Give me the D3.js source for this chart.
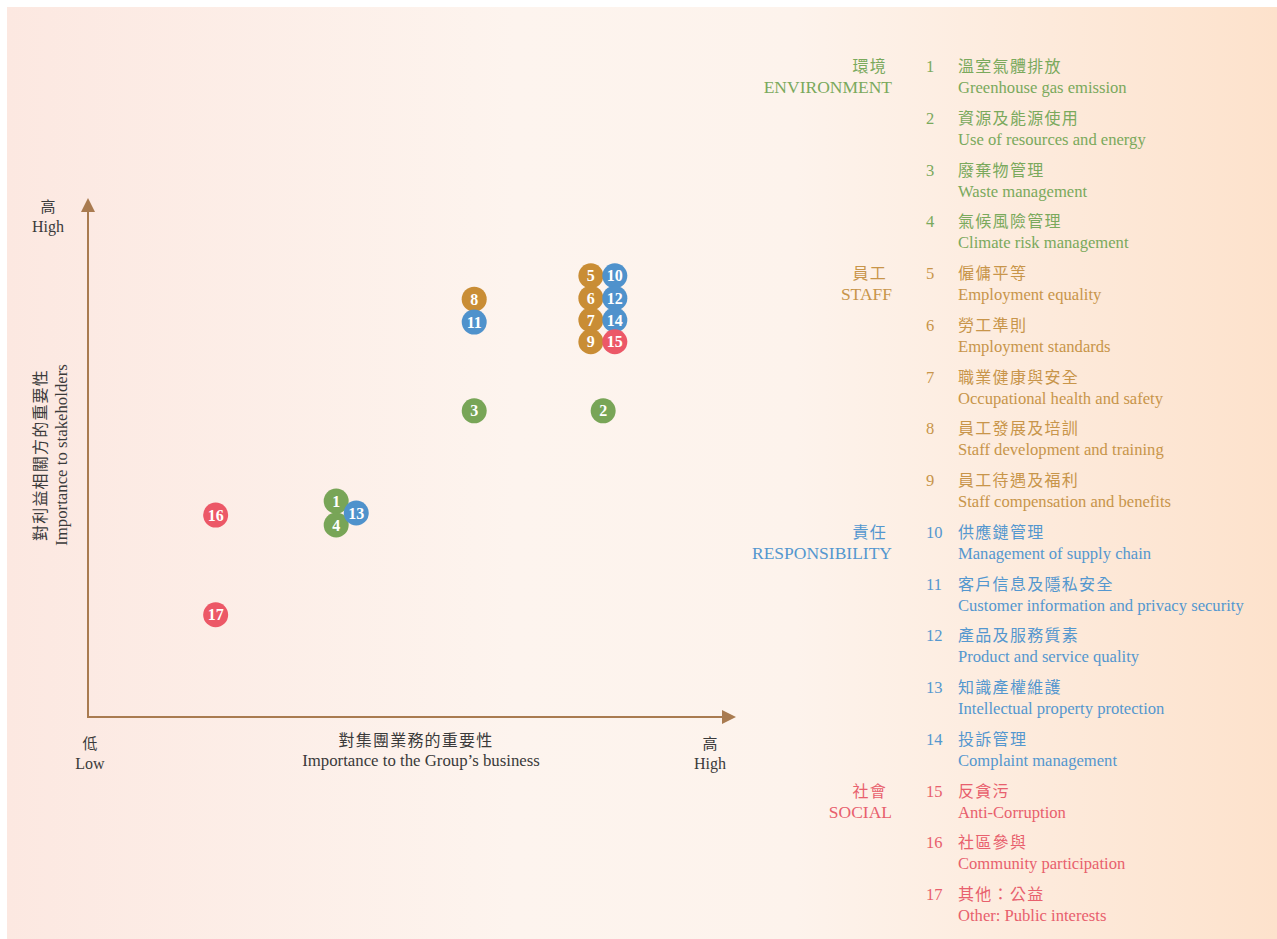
<!DOCTYPE html>
<html><head><meta charset="utf-8">
<script src="https://cdn.jsdelivr.net/npm/d3@7"></script>
<style>
html,body{margin:0;padding:0;background:#fff;}
svg{display:block;}
</style></head>
<body>
<script>
// ---- data ----
const ids = [1,2,3,4,5,6,7,8,9,10,11,12,13,14,15,16,17];
const groupOf = ["env","env","env","env","staff","staff","staff","staff","staff","resp","resp","resp","resp","resp","social","social","social"];
const businessImportance = [38.3,79.5,59.6,38.3,77.6,77.6,77.6,59.6,77.6,81.3,59.6,81.3,41.4,81.3,81.3,19.7,19.7];
const stakeholderImportance = [41.6,59.0,59.0,37.0,85.0,80.7,76.5,80.5,72.3,85.0,76.1,80.7,39.3,76.5,72.3,38.9,19.7];
const namesZh = ["溫室氣體排放","資源及能源使用","廢棄物管理","氣候風險管理","僱傭平等","勞工準則","職業健康與安全","員工發展及培訓","員工待遇及福利","供應鏈管理","客戶信息及隱私安全","產品及服務質素","知識產權維護","投訴管理","反貪污","社區參與","其他：公益"];
const namesEn = ["Greenhouse gas emission","Use of resources and energy","Waste management","Climate risk management","Employment equality","Employment standards","Occupational health and safety","Staff development and training","Staff compensation and benefits","Management of supply chain","Customer information and privacy security","Product and service quality","Intellectual property protection","Complaint management","Anti-Corruption","Community participation","Other: Public interests"];
const groups = ["env","staff","resp","social"];
const groupZh = ["環境","員工","責任","社會"];
const groupEn = ["ENVIRONMENT","STAFF","RESPONSIBILITY","SOCIAL"];
const xAxisZh = "對集團業務的重要性", xAxisEn = "Importance to the Group’s business";
const yAxisZh = "對利益相關方的重要性", yAxisEn = "Importance to stakeholders";
const lowZh = "低", lowEn = "Low", highZh = "高", highEn = "High";

// ---- styles ----
const dotColor = {env:"#78a557", staff:"#c98d35", resp:"#4f92cc", social:"#ec5867"};
const textColor = {env:"#7aa95c", staff:"#c8954a", resp:"#5497cf", social:"#e8606d"};
const serif = "'Liberation Serif','DejaVu Serif',serif";
const cjk = "'Noto Sans CJK TC','Noto Sans CJK SC',sans-serif";
const axisColor = "#a97b50";
const W = 1277, H = 939;

const svg = d3.select("body").append("svg").attr("width", W).attr("height", H);
const defs = svg.append("defs");
const grad = defs.append("linearGradient").attr("id","bg").attr("x1","0").attr("x2","1").attr("y1","0").attr("y2","0");
grad.append("stop").attr("offset","0%").attr("stop-color","#fce8e1");
grad.append("stop").attr("offset","40%").attr("stop-color","#fdf4ee");
grad.append("stop").attr("offset","62%").attr("stop-color","#fdf3ec");
grad.append("stop").attr("offset","100%").attr("stop-color","#fde2cc");
svg.append("rect").attr("x",7).attr("y",7).attr("width",W-7).attr("height",H-7).attr("fill","url(#bg)");

// ---- scales ----
const x0 = 88, x1 = 736, y0 = 717, y1 = 198;
const x = d3.scaleLinear().domain([0,100]).range([x0,x1]);
const y = d3.scaleLinear().domain([0,100]).range([y0,y1]);

// axes
const ax = svg.append("g");
ax.append("line").attr("x1",x(0)).attr("y1",y(0)).attr("x2",x(0)).attr("y2",y(100)+12).attr("stroke",axisColor).attr("stroke-width",2);
ax.append("line").attr("x1",x(0)-1).attr("y1",y(0)).attr("x2",x(100)-12).attr("y2",y(0)).attr("stroke",axisColor).attr("stroke-width",2);
ax.append("path").attr("d",`M${x(0)},${y(100)} L${x(0)-7},${y(100)+14} L${x(0)+7},${y(100)+14} Z`).attr("fill",axisColor);
ax.append("path").attr("d",`M${x(100)},${y(0)} L${x(100)-14},${y(0)-7} L${x(100)-14},${y(0)+7} Z`).attr("fill",axisColor);

const lab = svg.append("g").attr("fill","#3a3a3a").attr("text-anchor","middle");
function two(xx, yy, zh, en){
  lab.append("text").attr("x",xx).attr("y",yy).attr("font-family",cjk).attr("font-size",15).text(zh);
  lab.append("text").attr("x",xx).attr("y",yy+20).attr("font-family",serif).attr("font-size",16).text(en);
}
two(48, 212, highZh, highEn);
two(90, 749, lowZh, lowEn);
two(710, 749, highZh, highEn);
lab.append("text").attr("x",416).attr("y",746).attr("font-family",cjk).attr("font-size",16).attr("letter-spacing","1.2px").text(xAxisZh);
lab.append("text").attr("x",421).attr("y",766).attr("font-family",serif).attr("font-size",16.8).text(xAxisEn);
const yt = lab.append("g").attr("transform","translate(46,455) rotate(-90)");
yt.append("text").attr("x",0).attr("y",0).attr("font-family",cjk).attr("font-size",16).attr("letter-spacing","1.2px").text(yAxisZh);
yt.append("text").attr("x",0).attr("y",21).attr("font-family",serif).attr("font-size",16.8).text(yAxisEn);

// points
const pts = ids.map((id,i)=>({id, g:groupOf[i], bx:businessImportance[i], sy:stakeholderImportance[i]}));
const pg = svg.append("g").selectAll("g").data(pts).join("g")
  .attr("transform", d=>`translate(${x(d.bx)},${y(d.sy)})`);
pg.append("circle").attr("r",12.5).attr("fill",d=>dotColor[d.g]);
pg.append("text").attr("text-anchor","middle").attr("dy","0.35em")
  .attr("font-family",serif).attr("font-weight","bold").attr("font-size",16).attr("fill","#fff")
  .text(d=>d.id);

// legend
const ly = d3.scalePoint().domain(ids).range([66, 894]);
const lg = svg.append("g").selectAll("g").data(pts).join("g")
  .attr("transform", d=>`translate(0,${ly(d.id)})`)
  .attr("fill", d=>textColor[d.g]);
lg.append("text").attr("x",926).attr("y",6).attr("font-family",serif).attr("font-size",16.5).text(d=>d.id);
lg.append("text").attr("x",958).attr("y",6).attr("font-family",cjk).attr("font-size",16).attr("letter-spacing","1.3px").text((d,i)=>namesZh[i]);
lg.append("text").attr("x",958).attr("y",27).attr("font-family",serif).attr("font-size",16.6).text((d,i)=>namesEn[i]);

const firstIdx = groups.map(g=>groupOf.indexOf(g));
const cg = svg.append("g").selectAll("g").data(groups).join("g")
  .attr("transform",(g,i)=>`translate(890,${ly(ids[firstIdx[i]])})`)
  .attr("fill", g=>textColor[g]).attr("text-anchor","end");
cg.append("text").attr("x",-3).attr("y",6).attr("font-family",cjk).attr("font-size",16).attr("letter-spacing","1.2px").text((g,i)=>groupZh[i]);
cg.append("text").attr("x",2).attr("y",27).attr("font-family",serif).attr("font-size",17.5).text((g,i)=>groupEn[i]);
</script>
</body></html>
